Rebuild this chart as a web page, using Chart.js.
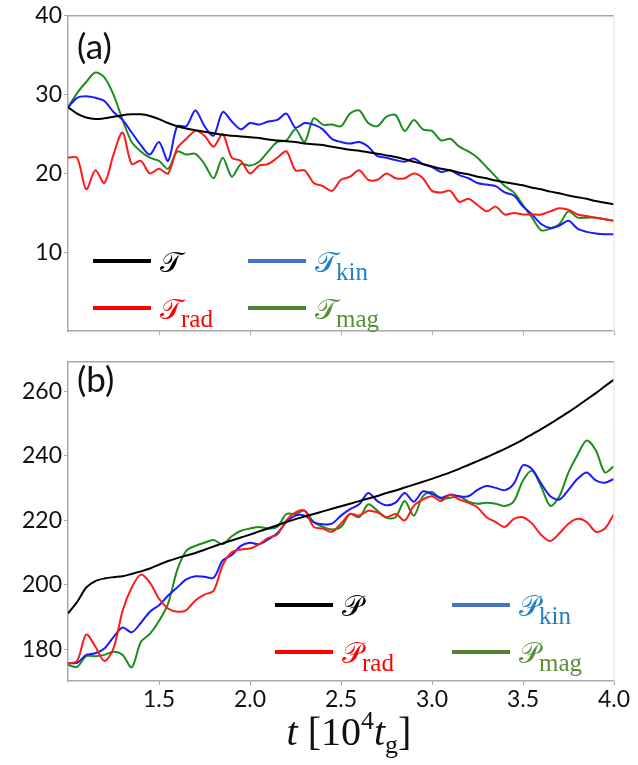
<!DOCTYPE html>
<html lang="en">
<head>
<meta charset="UTF-8">
<title>T and P vs time</title>
<script src="https://cdn.jsdelivr.net/npm/chart.js"></script>
<style>
  body { margin: 0; background: #fff; }
  #wrap { position: relative; width: 638px; height: 765px; }
  canvas { position: absolute; left: 0; }
  #chartA { top: 0; }
  #chartB { top: 346px; }
</style>
</head>
<body>
<div id="wrap">
  <canvas id="chartA" width="638" height="347"></canvas>
  <canvas id="chartB" width="638" height="419"></canvas>
</div>
<script>
// time in units of 10^4 t_g
const times = [1.00,1.05,1.10,1.15,1.20,1.25,1.30,1.35,1.40,1.45,1.50,1.55,1.60,1.65,1.70,1.75,1.80,1.85,1.90,1.95,
  2.00,2.05,2.10,2.15,2.20,2.25,2.30,2.35,2.40,2.45,2.50,2.55,2.60,2.65,2.70,2.75,2.80,2.85,2.90,2.95,
  3.00,3.05,3.10,3.15,3.20,3.25,3.30,3.35,3.40,3.45,3.50,3.55,3.60,3.65,3.70,3.75,3.80,3.85,3.90,3.95,4.00];

// panel (a)
const tauTot = [28.4,27.6,27.1,26.9,27.0,27.2,27.4,27.5,27.5,27.3,26.9,26.4,26.0,25.7,25.5,25.3,25.1,24.9,24.8,24.7,
  24.6,24.5,24.3,24.2,24.1,24.0,23.8,23.7,23.6,23.4,23.2,23.0,22.9,22.7,22.5,22.3,22.1,21.8,21.5,21.2,
  20.9,20.6,20.4,20.1,19.9,19.6,19.4,19.1,18.9,18.7,18.5,18.2,18.0,17.7,17.5,17.2,17.0,16.8,16.5,16.3,16.1];
const tauRad = [22.0,22.0,18.0,20.4,18.8,22.4,25.2,21.2,21.6,20.0,20.6,20.0,23.2,24.4,25.4,24.8,23.4,25.0,22.0,21.6,
  20.0,21.0,21.2,22.0,22.8,20.4,20.4,18.8,18.4,17.8,19.2,19.6,20.4,19.2,19.2,20.0,19.4,19.4,20.0,19.4,
  17.8,17.6,17.8,16.4,16.8,16.0,15.2,15.8,14.8,15.0,14.8,14.8,14.8,15.2,15.6,15.4,14.8,14.6,14.4,14.2,14.0];
const tauKin = [28.4,29.6,29.8,29.6,29.2,27.8,26.8,25.2,23.6,22.4,24.0,21.6,26.0,26.0,28.0,26.0,24.8,27.8,26.6,25.6,
  26.4,26.2,26.6,26.8,27.6,25.8,26.4,26.2,25.6,24.4,24.0,23.8,24.0,23.4,22.2,22.0,21.7,21.5,21.9,21.2,
  20.8,20.2,20.4,19.8,19.4,18.8,18.6,18.4,17.6,17.2,15.8,14.8,13.6,13.1,13.4,14.0,13.0,12.6,12.4,12.3,12.3];
const tauMag = [28.4,30.2,31.6,32.8,32.2,30.0,26.8,24.0,22.8,22.0,21.6,20.6,22.8,22.4,22.5,21.2,19.4,22.0,19.6,21.2,
  21.0,21.5,22.8,24.0,24.2,25.6,24.0,27.0,26.2,26.2,26.0,27.6,28.0,26.4,26.0,27.2,27.4,25.4,26.8,25.6,
  25.4,24.2,24.4,23.4,22.8,22.0,20.8,19.6,18.4,17.6,16.0,14.4,12.8,13.0,13.6,15.2,14.4,14.4,14.4,14.2,14.0];

// panel (b)
const pTot = [191.2,194.7,199.2,201.2,202.0,202.4,202.7,203.4,204.2,205.1,206.3,207.4,208.3,209.1,209.9,210.9,211.9,212.9,213.8,214.7,
  215.6,216.6,217.5,218.5,219.5,220.4,221.2,222.0,222.8,223.6,224.4,225.2,226.0,226.8,227.6,228.5,229.3,230.2,231.1,232.0,
  232.9,233.9,234.9,236.0,237.2,238.4,239.6,240.9,242.2,243.6,245.1,246.7,248.3,250.0,251.8,253.6,255.5,257.5,259.5,261.6,263.7];
const pRad = [175.6,176.4,184.6,180.9,176.4,180.3,192.0,199.2,203.2,200.7,195.7,192.7,191.7,192.2,195.2,197.0,198.2,206.1,210.1,211.0,
  211.3,212.6,214.6,215.6,220.0,222.5,223.0,218.0,217.5,216.5,219.0,222.0,221.5,223.0,222.5,221.0,222.0,220.0,224.5,226.5,
  227.5,226.0,228.0,226.5,225.5,224.0,221.0,219.5,218.0,220.5,221.0,219.0,215.5,213.6,216.0,219.0,220.5,219.5,216.5,217.5,222.0];
const pKin = [175.8,175.8,178.3,178.8,180.3,183.8,186.8,185.3,188.2,191.7,193.7,196.7,199.2,201.7,202.7,202.5,202.2,207.6,209.3,212.1,
  213.1,212.6,214.1,216.0,219.5,221.5,221.5,219.5,218.8,219.0,221.5,223.5,225.0,228.5,226.0,224.7,225.5,228.5,225.8,229.0,
  228.2,227.0,228.0,227.5,227.5,229.5,230.7,230.1,229.4,231.4,237.1,235.9,231.4,227.5,226.5,229.5,232.9,234.9,232.4,231.7,232.9];
const pMag = [175.2,174.6,177.9,177.9,178.3,179.3,178.3,174.4,182.3,184.8,188.8,194.2,204.6,210.6,212.1,213.1,213.9,212.6,215.1,216.8,
  217.5,218.0,217.5,218.0,222.0,222.0,223.0,219.5,218.0,217.2,218.0,222.0,221.0,225.0,223.0,220.8,221.0,226.0,221.5,227.5,
  228.8,226.7,227.0,227.5,225.8,225.2,225.5,225.2,224.5,226.0,232.4,235.4,230.4,224.5,227.5,234.9,240.4,244.8,241.8,234.9,236.9];

const xTicks = [1.5, 2.0, 2.5, 3.0, 3.5, 4.0];
const yTicksA = [10, 20, 30, 40];
const yTicksB = [180, 200, 220, 240, 260];

const COL = { tot: '#000000', rad: '#ff1a1a', kin: '#1a1aff', mag: '#1e8c1e' };
const TICK_FONT = { family: 'Lato, "Open Sans", sans-serif', size: 23 };

function pts(arr) { return arr.map((v, i) => ({ x: times[i], y: v })); }
function ds(arr, color) {
  return { data: pts(arr), borderColor: color, borderWidth: 2, pointRadius: 0, tension: 0.3, fill: false };
}

// frame + panel letter + legend
const decor = {
  id: 'decor',
  afterDraw(chart, args, opts) {
    const { ctx, chartArea: a } = chart;
    ctx.save();
    ctx.strokeStyle = '#a8a8a8'; ctx.lineWidth = 1.5;
    ctx.beginPath(); ctx.moveTo(a.left, a.top); ctx.lineTo(a.right, a.top); ctx.stroke();
    ctx.strokeStyle = '#e8e8e8';
    ctx.beginPath(); ctx.moveTo(a.right, a.top); ctx.lineTo(a.right, a.bottom); ctx.stroke();
    ctx.fillStyle = '#111';
    ctx.font = '35px Lato, "Open Sans", sans-serif';
    ctx.textBaseline = 'middle';
    ctx.fillText(opts.letter, opts.letterX, opts.letterY);
    opts.items.forEach(it => {
      ctx.strokeStyle = it.line; ctx.lineWidth = 4;
      ctx.beginPath(); ctx.moveTo(it.x, it.y); ctx.lineTo(it.x + 58, it.y); ctx.stroke();
      ctx.fillStyle = it.text;
      ctx.textBaseline = 'alphabetic';
      ctx.font = '29px "DejaVu Serif", serif';
      const tx = it.x + 67;
      ctx.fillText(opts.sym, tx, it.y + 11);
      const w = ctx.measureText(opts.sym).width;
      if (it.sub) {
        ctx.font = '25px "Liberation Serif", serif';
        ctx.fillText(it.sub, tx + w - 1, it.y + 19);
      }
    });
    if (opts.title) {
      // x-axis title: t [10^4 t_g]
      const parts = [
        ['italic 40px "Liberation Serif", serif', 't', 0],
        ['40px "Liberation Serif", serif', ' [10', 0],
        ['26px "Liberation Serif", serif', '4', -16],
        ['italic 40px "Liberation Serif", serif', 't', 0],
        ['26px "Liberation Serif", serif', 'g', 8],
        ['40px "Liberation Serif", serif', ']', 0]
      ];
      let total = 0;
      parts.forEach(p => { ctx.font = p[0]; total += ctx.measureText(p[1]).width; });
      let x = 349 - total / 2;
      ctx.fillStyle = '#111';
      ctx.textBaseline = 'alphabetic';
      parts.forEach(p => { ctx.font = p[0]; ctx.fillText(p[1], x, opts.titleY + p[2]); x += ctx.measureText(p[1]).width; });
    }
    ctx.restore();
  }
};

function makeChart(id, series, yMin, yMax, yTicks, showX, decorOpts, pad) {
  return new Chart(document.getElementById(id), {
    type: 'line',
    data: { datasets: series },
    options: {
      responsive: false, animation: false, devicePixelRatio: 1,
      layout: { padding: pad },
      plugins: { legend: { display: false }, tooltip: { enabled: false }, decor: decorOpts },
      scales: {
        x: {
          type: 'linear', min: 1.0, max: 4.0,
          afterBuildTicks: s => { s.ticks = xTicks.map(v => ({ value: v })); },
          afterFit: s => { s.height = showX ? 84 : 0; },
          border: { color: '#a8a8a8', width: 1.5 },
          grid: { drawOnChartArea: false, drawTicks: true, tickLength: 4, color: '#a8a8a8' },
          ticks: { display: showX, color: '#111', font: TICK_FONT, padding: 1, maxRotation: 0,
                   callback: v => v.toFixed(1) }
        },
        y: {
          min: yMin, max: yMax,
          afterBuildTicks: s => { s.ticks = yTicks.map(v => ({ value: v })); },
          afterFit: s => { s.width = 68; },
          border: { color: '#a8a8a8', width: 1.5 },
          grid: { drawOnChartArea: false, drawTicks: true, tickLength: 4, color: '#a8a8a8' },
          ticks: { color: '#111', font: TICK_FONT, padding: 2 }
        }
      }
    },
    plugins: [decor]
  });
}

makeChart('chartA',
  [ds(tauTot, COL.tot), ds(tauRad, COL.rad), ds(tauKin, COL.kin), ds(tauMag, COL.mag)],
  0, 40, yTicksA, false,
  { letter: '(a)', letterX: 77, letterY: 48, sym: '\u{1D4AF}',
    items: [
      { x: 93, y: 261, line: '#000', text: '#000', sub: '' },
      { x: 248, y: 261, line: '#4472c4', text: '#1f7fc4', sub: 'kin' },
      { x: 93, y: 308, line: '#ff0000', text: '#ff0000', sub: 'rad' },
      { x: 248, y: 308, line: '#548235', text: '#5a8f3a', sub: 'mag' }
    ] },
  { top: 14, right: 24, bottom: 1, left: 0 });

makeChart('chartB',
  [ds(pTot, COL.tot), ds(pRad, COL.rad), ds(pKin, COL.kin), ds(pMag, COL.mag)],
  170.2, 269.2, yTicksB, true,
  { letter: '(b)', letterX: 77, letterY: 35, sym: '\u{1D4AB}', title: true, titleY: 399,
    items: [
      { x: 275, y: 259, line: '#000', text: '#000', sub: '' },
      { x: 452, y: 259, line: '#4472c4', text: '#1f7fc4', sub: 'kin' },
      { x: 275, y: 306, line: '#ff0000', text: '#ff0000', sub: 'rad' },
      { x: 452, y: 306, line: '#548235', text: '#5a8f3a', sub: 'mag' }
    ] },
  { top: 2, right: 24, bottom: 0, left: 0 });
</script>
</body>
</html>
